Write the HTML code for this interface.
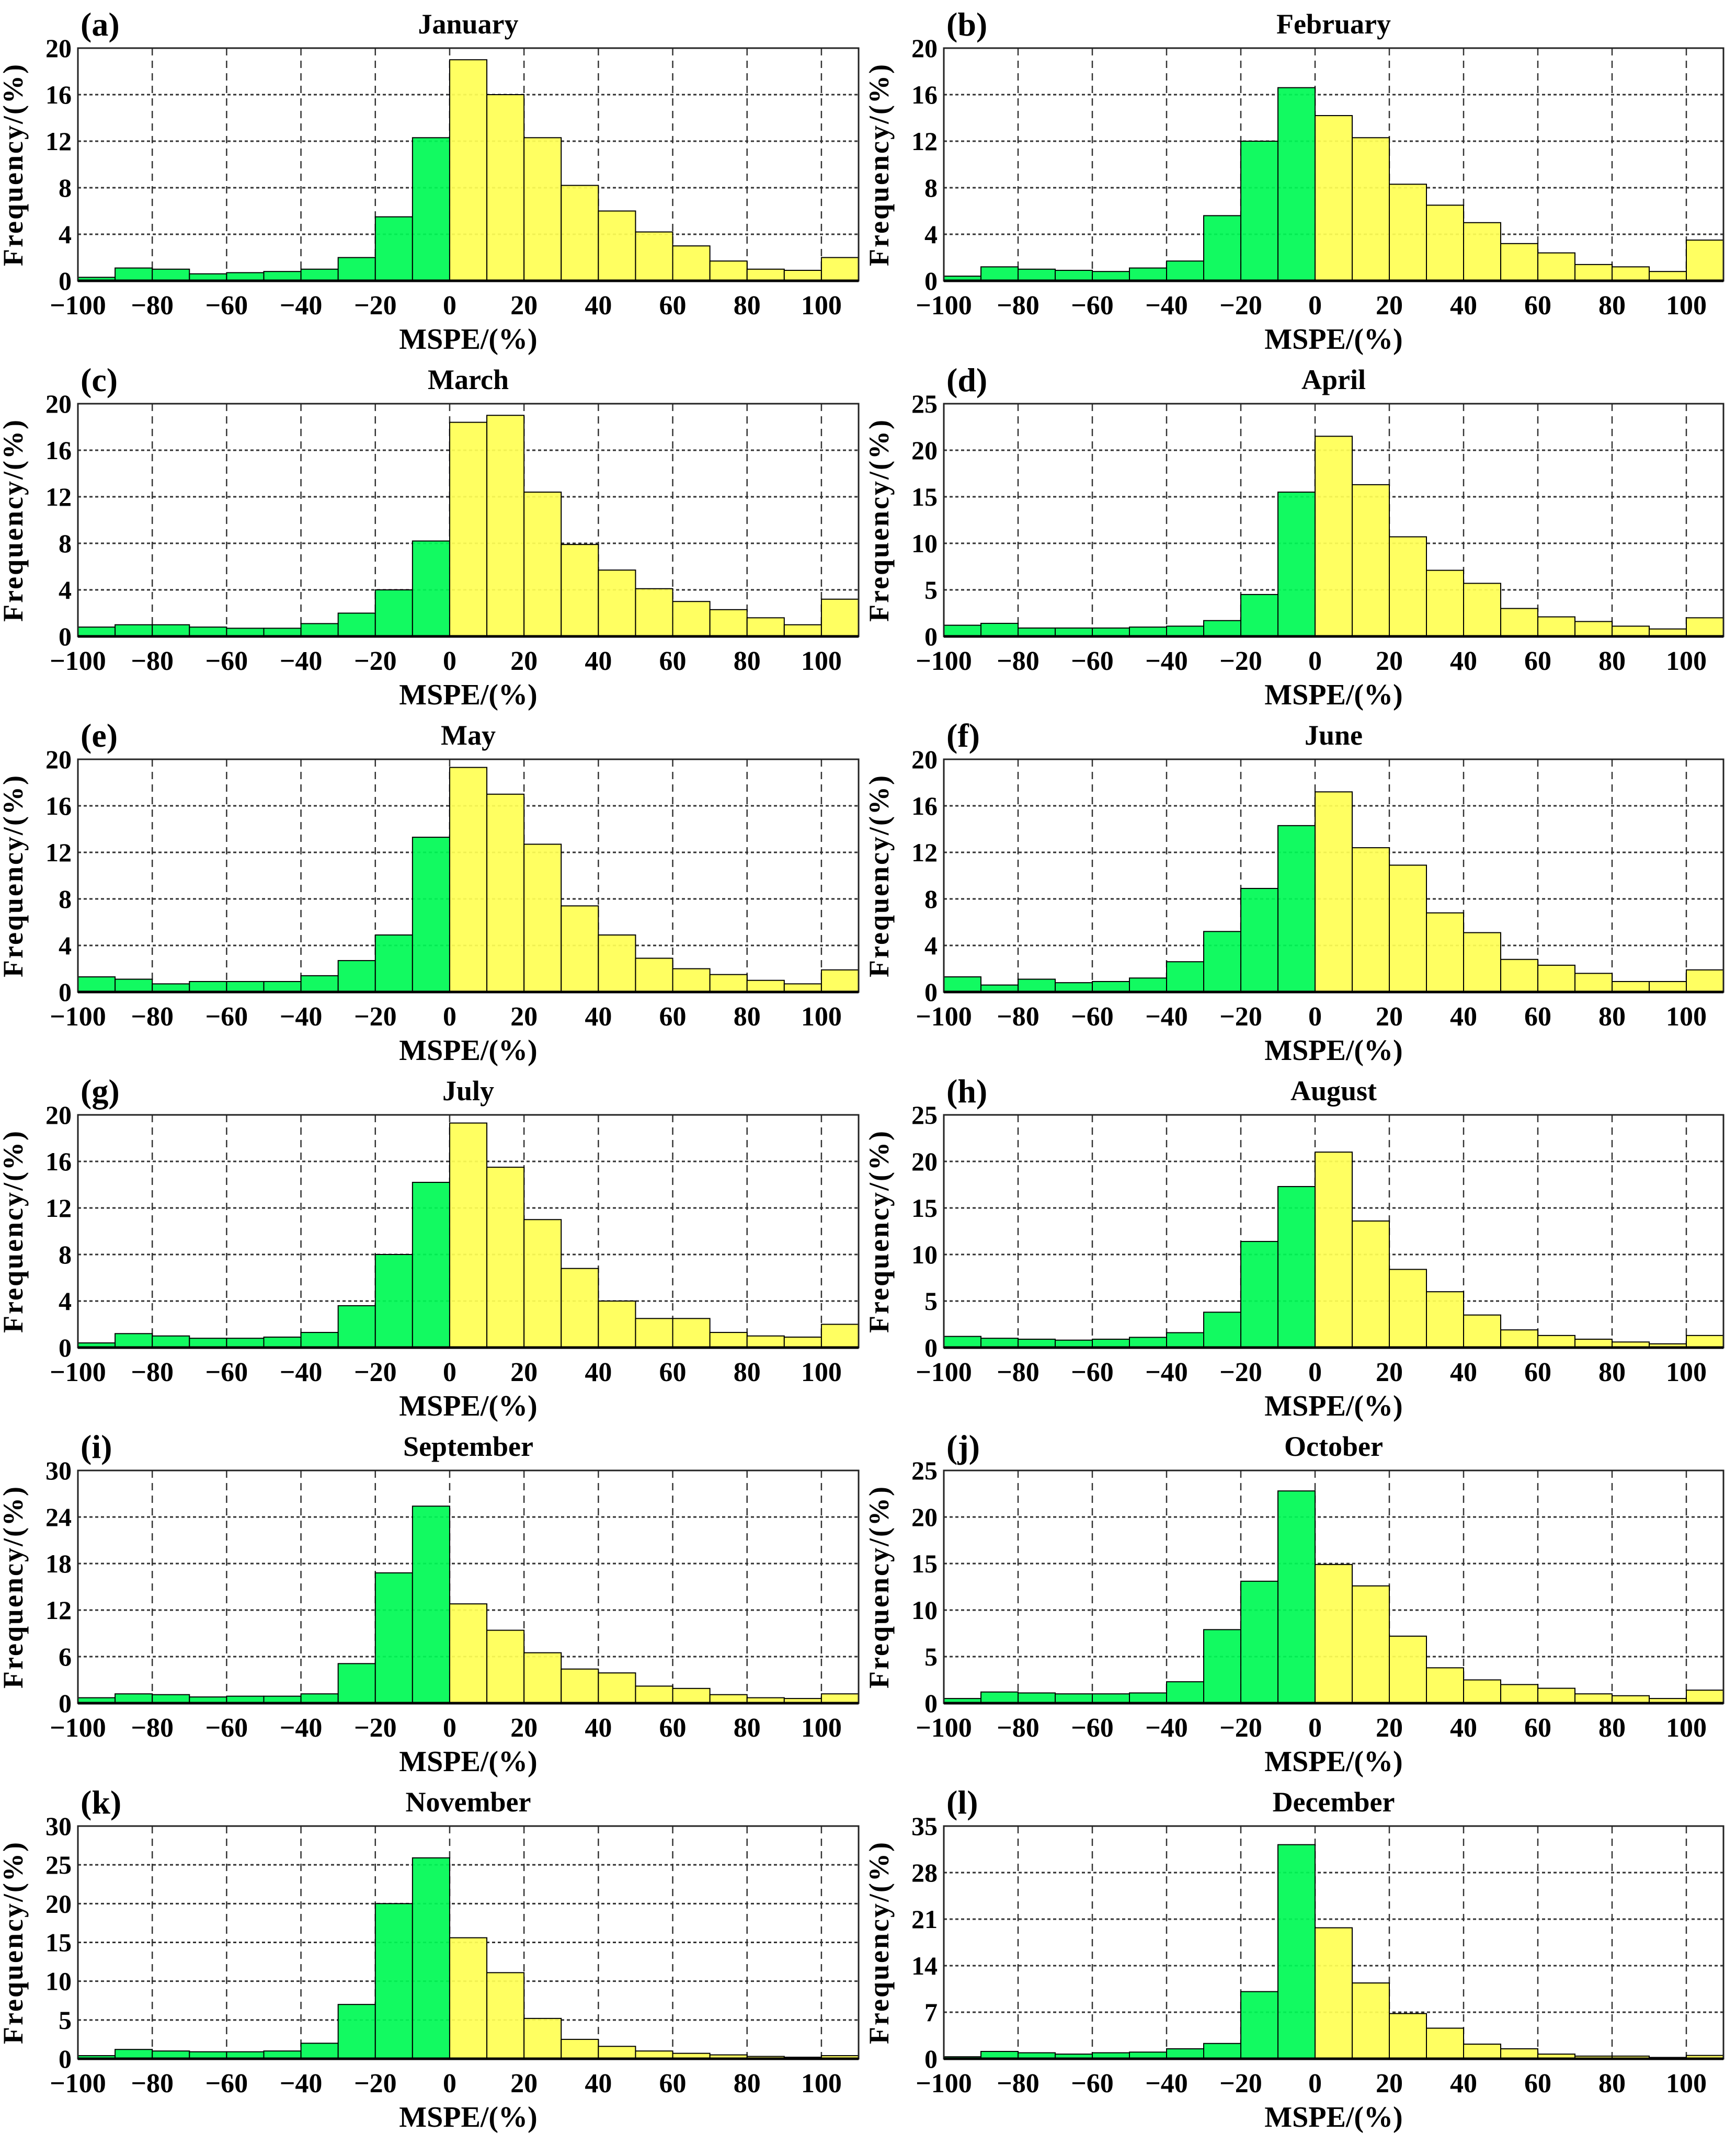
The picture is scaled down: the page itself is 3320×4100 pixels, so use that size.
<!DOCTYPE html>
<html><head><meta charset="utf-8"><style>
html,body{margin:0;padding:0;background:#fff;}
svg{display:block;font-family:"Liberation Serif",serif;font-weight:bold;}
</style></head><body>
<svg id="fig" width="3320" height="4100" viewBox="0 0 3320 4100" xmlns="http://www.w3.org/2000/svg"></svg>
<script>
const months = ["January","February","March","April","May","June","July","August","September","October","November","December"];
const letters = ["(a)","(b)","(c)","(d)","(e)","(f)","(g)","(h)","(i)","(j)","(k)","(l)"];
const binEdgesStart = [-100,-90,-80,-70,-60,-50,-40,-30,-20,-10,0,10,20,30,40,50,60,70,80,90,100];
const xTicks = [-100,-80,-60,-40,-20,0,20,40,60,80,100];
const yMax = [20,20,20,25,20,20,20,25,30,25,30,35];
const yStep = [4,4,4,5,4,4,4,5,6,5,5,7];
const janVals = [0.3,1.1,1.0,0.6,0.7,0.8,1.0,2.0,5.5,12.3,19.0,16.0,12.3,8.2,6.0,4.2,3.0,1.7,1.0,0.9,2.0];
const febVals = [0.4,1.2,1.0,0.9,0.8,1.1,1.7,5.6,12.0,16.6,14.2,12.3,8.3,6.5,5.0,3.2,2.4,1.4,1.2,0.8,3.5];
const marVals = [0.8,1.0,1.0,0.8,0.7,0.7,1.1,2.0,4.0,8.2,18.4,19.0,12.4,7.9,5.7,4.1,3.0,2.3,1.6,1.0,3.2];
const aprVals = [1.2,1.4,0.9,0.9,0.9,1.0,1.1,1.7,4.5,15.5,21.5,16.3,10.7,7.1,5.7,3.0,2.1,1.6,1.1,0.8,2.0];
const mayVals = [1.3,1.1,0.7,0.9,0.9,0.9,1.4,2.7,4.9,13.3,19.3,17.0,12.7,7.4,4.9,2.9,2.0,1.5,1.0,0.7,1.9];
const junVals = [1.3,0.6,1.1,0.8,0.9,1.2,2.6,5.2,8.9,14.3,17.2,12.4,10.9,6.8,5.1,2.8,2.3,1.6,0.9,0.9,1.9];
const julVals = [0.4,1.2,1.0,0.8,0.8,0.9,1.3,3.6,8.0,14.2,19.3,15.5,11.0,6.8,4.0,2.5,2.5,1.3,1.0,0.9,2.0];
const augVals = [1.2,1.0,0.9,0.8,0.9,1.1,1.6,3.8,11.4,17.3,21.0,13.6,8.4,6.0,3.5,1.9,1.3,0.9,0.6,0.4,1.3];
const sepVals = [0.7,1.2,1.1,0.8,0.9,0.9,1.2,5.1,16.8,25.4,12.8,9.4,6.5,4.4,3.9,2.2,1.9,1.1,0.7,0.6,1.2];
const octVals = [0.5,1.2,1.1,1.0,1.0,1.1,2.3,7.9,13.1,22.8,14.9,12.6,7.2,3.8,2.5,2.0,1.6,1.0,0.8,0.5,1.4];
const novVals = [0.4,1.2,1.0,0.9,0.9,1.0,2.0,7.0,20.0,25.9,15.6,11.1,5.2,2.5,1.6,1.0,0.7,0.5,0.3,0.2,0.4];
const decVals = [0.3,1.1,0.9,0.7,0.9,1.0,1.5,2.3,10.1,32.2,19.7,11.4,6.8,4.6,2.2,1.5,0.7,0.4,0.4,0.2,0.5];
const allVals = [janVals,febVals,marVals,aprVals,mayVals,junVals,julVals,augVals,sepVals,octVals,novVals,decVals];

const NS="http://www.w3.org/2000/svg";
const svg=document.getElementById('fig');
function mk(tag,attrs,parent){const e=document.createElementNS(NS,tag);for(const k in attrs)e.setAttribute(k,attrs[k]);(parent||svg).appendChild(e);return e;}

for(let m=0;m<12;m++){
  const col=m%2,row=Math.floor(m/2);
  const L=col?1805:149, R=col?3296:1642;
  const T=92+row*680, B=T+445;
  const xs=v=>L+(v+100)/210*(R-L);
  const ys=v=>B-v/yMax[m]*(B-T);
  const g=mk('g',{});
  
  
  for(const t of xTicks){ if(t===-100) continue;
    const l=mk('line',{x1:xs(t),x2:xs(t),y1:T,y2:B,stroke:'#333','stroke-width':2.5,'stroke-dasharray':'14,10'},g);
     }
  for(let v=yStep[m];v<yMax[m];v+=yStep[m]){
    const l=mk('line',{x1:L,x2:R,y1:ys(v),y2:ys(v),stroke:'#333','stroke-width':3,'stroke-dasharray':'6,5'},g);
     }
  const vals=allVals[m];
  for(let i=0;i<vals.length;i++){
    const x0=binEdgesStart[i], x1=Math.min(x0+10,110);
    const r=mk('rect',{x:xs(x0),y:ys(vals[i]),width:xs(x1)-xs(x0),height:B-ys(vals[i]),fill:x0<0?'#00fa55':'#ffff55','fill-opacity':0.93,stroke:'#000','stroke-width':2},g);
    
    
  }
  const box=mk('rect',{x:L,y:T,width:R-L,height:B-T,fill:'none',stroke:'#222','stroke-width':3},g);
   
  const bl=mk('line',{x1:L,x2:R,y1:B,y2:B,stroke:'#000','stroke-width':5},g);
   
  for(const t of xTicks){
    const tx=mk('text',{x:xs(t),y:B+64,'font-size':52,'text-anchor':'middle'},g);
    tx.textContent=t<0?'\u2212'+Math.abs(t):String(t);
     
  }
  for(let v=0;v<=yMax[m];v+=yStep[m]){
    const tx=mk('text',{x:L-12,y:ys(v)+17,'font-size':50,'text-anchor':'end'},g);
    tx.textContent=String(v);
     
  }
  const xl=mk('text',{x:(L+R)/2,y:B+130,'font-size':56,'text-anchor':'middle'},g);
  xl.textContent='MSPE/(%)';
   
  const yl=mk('text',{x:0,y:0,'font-size':54,'letter-spacing':3,'text-anchor':'middle',transform:`translate(${L-106},${(T+B)/2}) rotate(-90)`},g);
  yl.textContent='Frequency/(%)';
   
  const ti=mk('text',{x:(L+R)/2,y:T-28,'font-size':54,'text-anchor':'middle'},g);
  ti.textContent=months[m];
   
  const lt=mk('text',{x:L+5,y:T-24,'font-size':64},g);
  lt.textContent=letters[m];
   
}
</script>
</body></html>
